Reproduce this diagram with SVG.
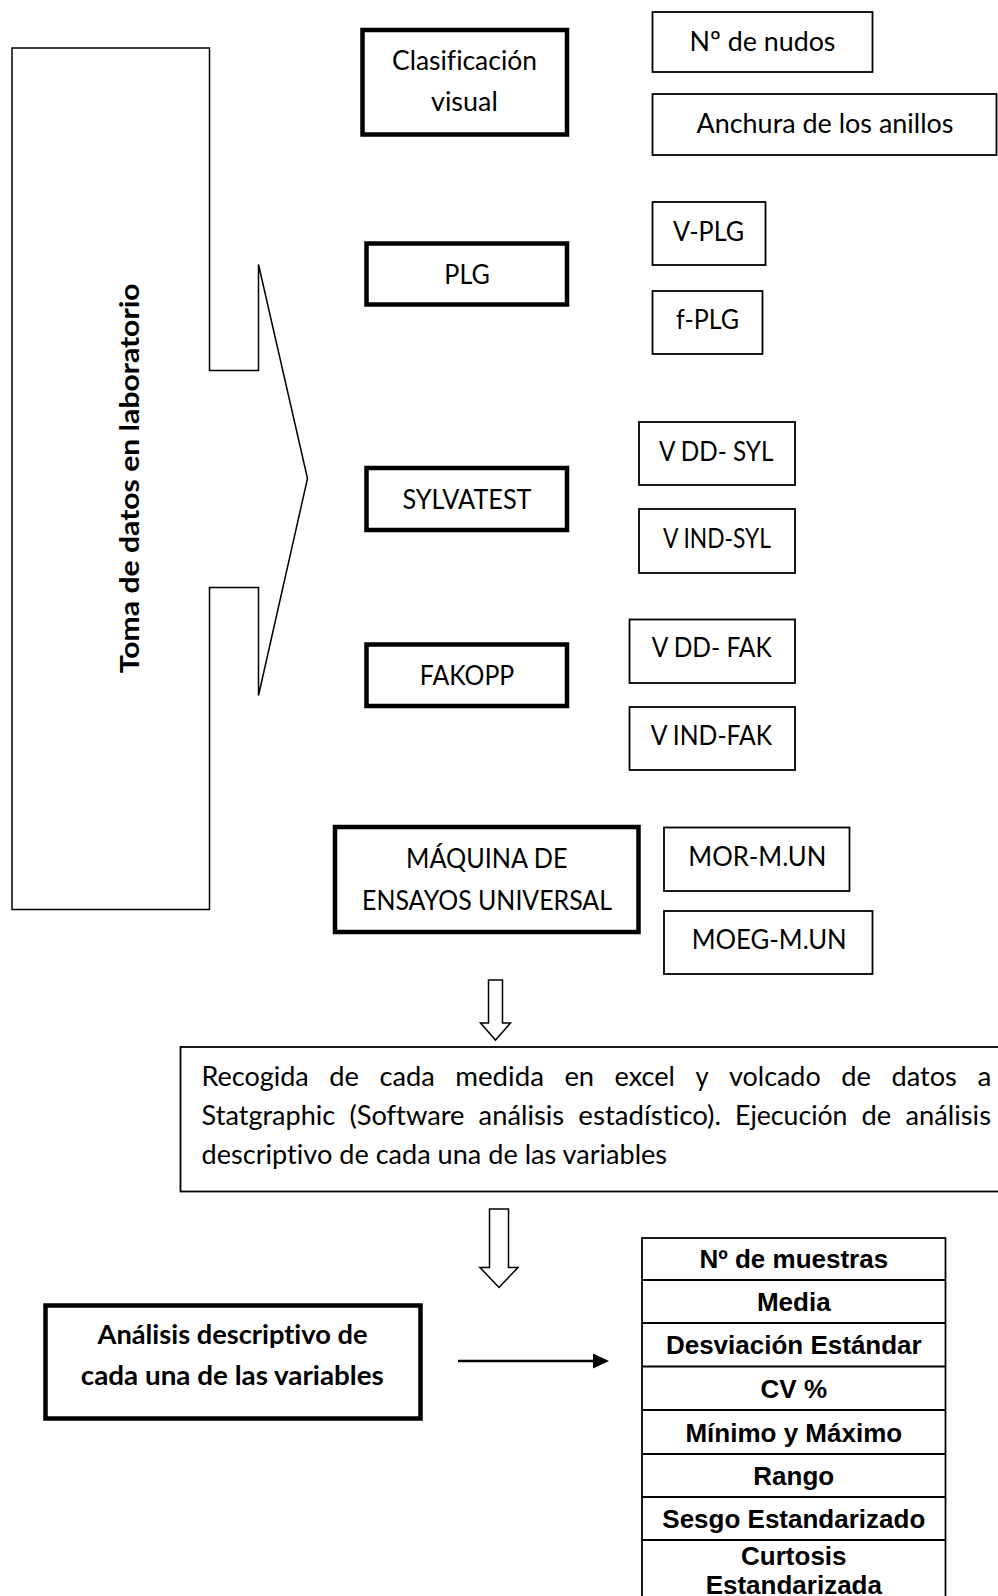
<svg xmlns="http://www.w3.org/2000/svg" width="998" height="1596" viewBox="0 0 998 1596">
<style>
.t{font-family:Lato,'Open Sans','DejaVu Sans',sans-serif;font-size:27px;fill:#000;font-variant-ligatures:none}
.tb{font-family:Lato,'Open Sans','DejaVu Sans',sans-serif;font-size:27px;font-weight:bold;fill:#000;font-variant-ligatures:none}
.ta{font-family:'Liberation Sans',Arial,sans-serif;font-size:26px;font-weight:bold;fill:#000;text-anchor:middle}
.thin{fill:#fff;stroke:#000;stroke-width:1.8}
.thick{fill:#fff;stroke:#000;stroke-width:4.5}
.ln{fill:none;stroke:#000;stroke-width:1.8}
</style>
<rect width="998" height="1596" fill="#fff"/>

<g id="toma-datos">
<path d="M12,48 L209.5,48 L209.5,370.5 L258.5,370.5 L258.5,264.5 L307.5,478.5 L258.5,695.5 L258.5,587.5 L209.5,587.5 L209.5,909.5 L12,909.5 Z" fill="#fff" stroke="#000" stroke-width="1.5"/>
<text class="tb" font-size="23" transform="translate(138.5,478.3) rotate(-90)" x="-195" y="0" textLength="390" lengthAdjust="spacingAndGlyphs">Toma de datos en laboratorio</text>
</g>

<g id="clasificacion">
<rect class="thick" x="362.5" y="30" width="204.5" height="104.5"/>
<text class="t" x="392" y="70" textLength="145" lengthAdjust="spacingAndGlyphs">Clasificación</text>
<text class="t" x="431" y="111" textLength="66.8" lengthAdjust="spacingAndGlyphs">visual</text>
</g>
<g id="nudos">
<rect class="thin" x="652.5" y="12" width="220" height="60"/>
<text class="t" x="689.5" y="51" textLength="146" lengthAdjust="spacingAndGlyphs">Nº de nudos</text>
</g>
<g id="anchura">
<rect class="thin" x="652.5" y="94" width="344" height="61"/>
<text class="t" x="696.5" y="133" textLength="257" lengthAdjust="spacingAndGlyphs">Anchura de los anillos</text>
</g>

<g id="plg">
<rect class="thick" x="366.5" y="243.5" width="200.5" height="61"/>
<text class="t" x="444.3" y="283.5" textLength="45.5" lengthAdjust="spacingAndGlyphs">PLG</text>
</g>
<g id="v-plg">
<rect class="thin" x="652.5" y="202" width="113" height="63"/>
<text class="t" x="673" y="241" textLength="71.1" lengthAdjust="spacingAndGlyphs">V-PLG</text>
</g>
<g id="f-plg">
<rect class="thin" x="652.5" y="291" width="110" height="63"/>
<text class="t" x="676" y="329" textLength="63" lengthAdjust="spacingAndGlyphs">f-PLG</text>
</g>

<g id="sylvatest">
<rect class="thick" x="366.5" y="468" width="200.5" height="62"/>
<text class="t" x="402.5" y="508.5" textLength="129" lengthAdjust="spacingAndGlyphs">SYLVATEST</text>
</g>
<g id="vdd-syl">
<rect class="thin" x="639" y="422" width="156" height="63"/>
<text class="t" x="659" y="461" textLength="114.5" lengthAdjust="spacingAndGlyphs">V DD- SYL</text>
</g>
<g id="vind-syl">
<rect class="thin" x="639" y="509" width="156" height="64"/>
<text class="t" x="663" y="548" textLength="108" lengthAdjust="spacingAndGlyphs">V IND-SYL</text>
</g>

<g id="fakopp">
<rect class="thick" x="366.5" y="644.5" width="200.5" height="61.5"/>
<text class="t" x="419.8" y="684.5" textLength="94.4" lengthAdjust="spacingAndGlyphs">FAKOPP</text>
</g>
<g id="vdd-fak">
<rect class="thin" x="629.5" y="619.5" width="165.5" height="63.5"/>
<text class="t" x="651.7" y="657" textLength="120" lengthAdjust="spacingAndGlyphs">V DD- FAK</text>
</g>
<g id="vind-fak">
<rect class="thin" x="629.5" y="707" width="165.5" height="63"/>
<text class="t" x="650.7" y="745" textLength="121.5" lengthAdjust="spacingAndGlyphs">V IND-FAK</text>
</g>

<g id="maquina">
<rect class="thick" x="335" y="827" width="303.5" height="105"/>
<text class="t" x="406" y="868" textLength="161.5" lengthAdjust="spacingAndGlyphs">MÁQUINA DE</text>
<text class="t" x="362" y="909.5" textLength="250" lengthAdjust="spacingAndGlyphs">ENSAYOS UNIVERSAL</text>
</g>
<g id="mor">
<rect class="thin" x="664" y="827.5" width="185.5" height="63.5"/>
<text class="t" x="688.3" y="866" textLength="138" lengthAdjust="spacingAndGlyphs">MOR-M.UN</text>
</g>
<g id="moeg">
<rect class="thin" x="664" y="911" width="208.5" height="63"/>
<text class="t" x="691.7" y="949" textLength="155" lengthAdjust="spacingAndGlyphs">MOEG-M.UN</text>
</g>

<g id="recogida">
<rect class="thin" x="180.5" y="1047" width="830" height="144.5"/>
<text class="t" x="201.6" y="1086" textLength="107.2" lengthAdjust="spacingAndGlyphs">Recogida</text>
<text class="t" x="329.3" y="1086" textLength="29.7" lengthAdjust="spacingAndGlyphs">de</text>
<text class="t" x="379.5" y="1086" textLength="55.3" lengthAdjust="spacingAndGlyphs">cada</text>
<text class="t" x="455.3" y="1086" textLength="88.6" lengthAdjust="spacingAndGlyphs">medida</text>
<text class="t" x="564.4" y="1086" textLength="29.7" lengthAdjust="spacingAndGlyphs">en</text>
<text class="t" x="614.6" y="1086" textLength="60.3" lengthAdjust="spacingAndGlyphs">excel</text>
<text class="t" x="695.4" y="1086" textLength="13.1" lengthAdjust="spacingAndGlyphs">y</text>
<text class="t" x="729" y="1086" textLength="91.7" lengthAdjust="spacingAndGlyphs">volcado</text>
<text class="t" x="841.2" y="1086" textLength="29.7" lengthAdjust="spacingAndGlyphs">de</text>
<text class="t" x="891.4" y="1086" textLength="65.5" lengthAdjust="spacingAndGlyphs">datos</text>
<text class="t" x="977.4" y="1086" textLength="13.9" lengthAdjust="spacingAndGlyphs">a</text>
<text class="t" x="201.6" y="1124.5" textLength="133.7" lengthAdjust="spacingAndGlyphs">Statgraphic</text>
<text class="t" x="349.4" y="1124.5" textLength="115.1" lengthAdjust="spacingAndGlyphs">(Software</text>
<text class="t" x="478.6" y="1124.5" textLength="85.6" lengthAdjust="spacingAndGlyphs">análisis</text>
<text class="t" x="578.3" y="1124.5" textLength="142.7" lengthAdjust="spacingAndGlyphs">estadístico).</text>
<text class="t" x="735.1" y="1124.5" textLength="112.4" lengthAdjust="spacingAndGlyphs">Ejecución</text>
<text class="t" x="861.6" y="1124.5" textLength="29.7" lengthAdjust="spacingAndGlyphs">de</text>
<text class="t" x="905.4" y="1124.5" textLength="85.6" lengthAdjust="spacingAndGlyphs">análisis</text>
<text class="t" x="201.6" y="1163.5" textLength="465.5" lengthAdjust="spacingAndGlyphs">descriptivo de cada una de las variables</text>
</g>

<g id="analisis">
<rect class="thick" x="45.5" y="1305.5" width="375" height="113" stroke-width="5"/>
<text class="tb" x="97.5" y="1344" textLength="270" lengthAdjust="spacingAndGlyphs">Análisis descriptivo de</text>
<text class="tb" x="80.8" y="1385" textLength="303" lengthAdjust="spacingAndGlyphs">cada una de las variables</text>
</g>

<g id="tabla">
<rect class="thin" x="642" y="1238" width="303.5" height="400"/>
<path class="ln" d="M642,1280H945.5M642,1323H945.5M642,1366.5H945.5M642,1410H945.5M642,1454H945.5M642,1497H945.5M642,1540H945.5"/>
<text class="ta" x="793.8" y="1268">Nº de muestras</text>
<text class="ta" x="793.8" y="1311">Media</text>
<text class="ta" x="793.8" y="1354">Desviación Estándar</text>
<text class="ta" x="793.8" y="1398">CV %</text>
<text class="ta" x="793.8" y="1441.5">Mínimo y Máximo</text>
<text class="ta" x="793.8" y="1484.5">Rango</text>
<text class="ta" x="793.8" y="1527.5">Sesgo Estandarizado</text>
<text class="ta" x="793.8" y="1564.5">Curtosis</text>
<text class="ta" x="793.8" y="1594">Estandarizada</text>
</g>

<g id="connectors">
<path d="M488.5,980 H502.5 V1023 H510.5 L495.5,1040 L480.5,1023 H488.5 Z" fill="#fff" stroke="#000" stroke-width="1.5"/>
<path d="M489.5,1209 H508.5 V1267.5 H518 L499,1287.5 L480,1267.5 H489.5 Z" fill="#fff" stroke="#000" stroke-width="1.5"/>
<line x1="458" y1="1361" x2="596" y2="1361" stroke="#000" stroke-width="2.5"/>
<polygon points="593,1353.5 609,1361 593,1368.5" fill="#000"/>
</g>
</svg>
